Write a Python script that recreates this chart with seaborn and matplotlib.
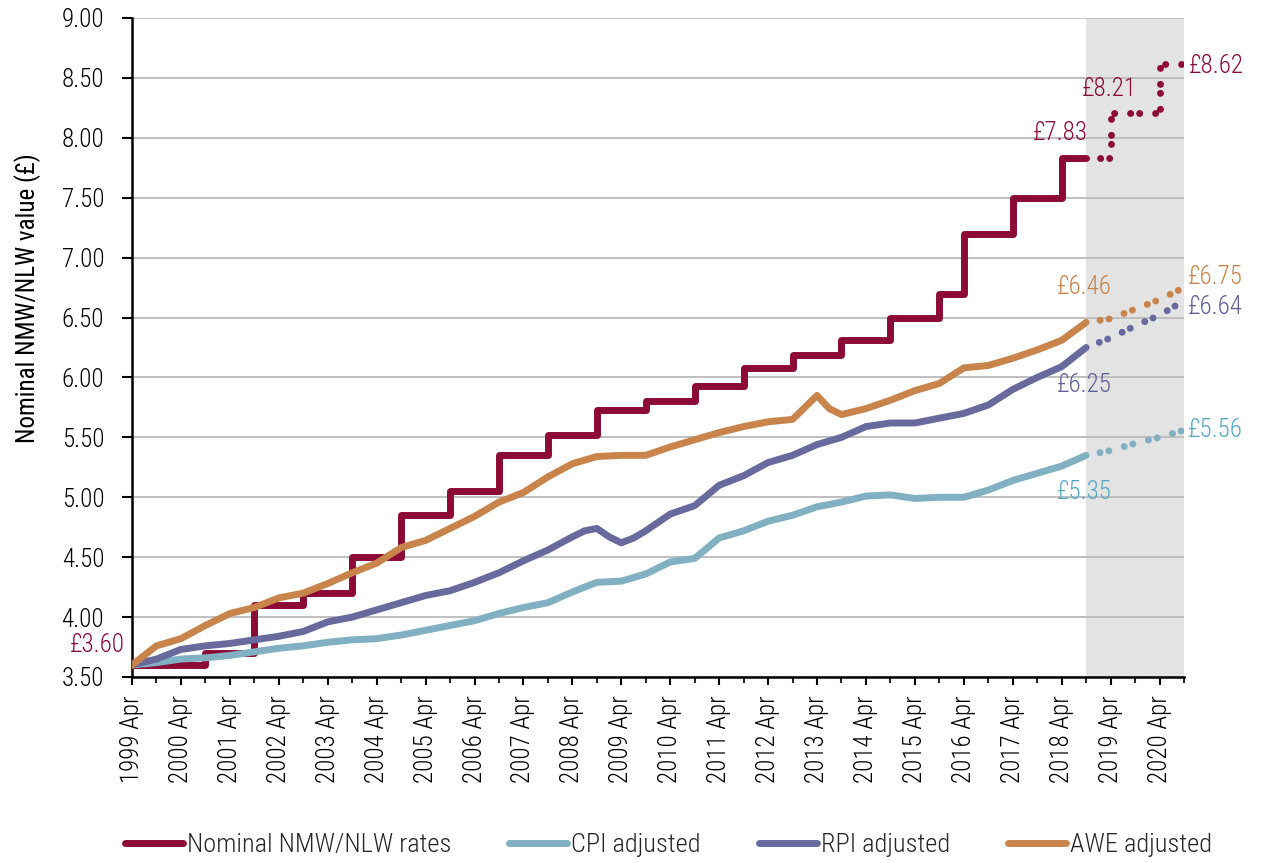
import numpy as np
import pandas as pd
import matplotlib
matplotlib.use("Agg")
import matplotlib.pyplot as plt
from matplotlib import font_manager as fm
from matplotlib.ticker import FormatStrFormatter
import seaborn as sns

# ------------------------------------------------------------------ data
# half-yearly observation dates (Apr / Oct) as decimal years, Apr 1999 .. Oct 2018
obs_dates = [1999.25 + 0.5 * i for i in range(40)]

cpi_values = [3.60, 3.62, 3.65, 3.66, 3.68, 3.71, 3.74, 3.76, 3.79, 3.81,
              3.82, 3.85, 3.89, 3.93, 3.97, 4.03, 4.08, 4.12, 4.21, 4.29,
              4.30, 4.36, 4.46, 4.49, 4.66, 4.72, 4.80, 4.85, 4.92, 4.96,
              5.01, 5.02, 4.99, 5.00, 5.00, 5.06, 5.14, 5.20, 5.26, 5.35]

rpi_values = [3.60, 3.65, 3.73, 3.76, 3.78, 3.81, 3.84, 3.88, 3.96, 4.00,
              4.06, 4.12, 4.18, 4.22, 4.29, 4.37, 4.47, 4.56, 4.67, 4.74,
              4.62, 4.72, 4.86, 4.93, 5.10, 5.18, 5.29, 5.35, 5.44, 5.50,
              5.59, 5.62, 5.62, 5.66, 5.70, 5.77, 5.90, 6.00, 6.09, 6.25]
# extra RPI readings around the 2008-09 dip
rpi_extra_dates = [2008.5, 2009.0, 2009.5]
rpi_extra_values = [4.72, 4.67, 4.66]

awe_values = [3.60, 3.76, 3.82, 3.93, 4.03, 4.08, 4.16, 4.20, 4.28, 4.37,
              4.45, 4.58, 4.64, 4.74, 4.84, 4.96, 5.04, 5.17, 5.28, 5.34,
              5.35, 5.35, 5.42, 5.48, 5.54, 5.59, 5.63, 5.65, 5.85, 5.69,
              5.74, 5.81, 5.89, 5.95, 6.08, 6.10, 6.16, 6.23, 6.31, 6.46]
# extra AWE readings around the 2013 spike
awe_extra_dates = [2013.0, 2013.5]
awe_extra_values = [5.75, 5.74]

nmw_dates = [1999.25, 2000.75, 2001.75, 2002.75, 2003.75, 2004.75, 2005.75,
             2006.75, 2007.75, 2008.75, 2009.75, 2010.75, 2011.75, 2012.75,
             2013.75, 2014.75, 2015.75, 2016.25, 2017.25, 2018.25, 2018.75]
nmw_values = [3.60, 3.70, 4.10, 4.20, 4.50, 4.85, 5.05, 5.35, 5.52, 5.73,
              5.80, 5.93, 6.08, 6.19, 6.31, 6.50, 6.70, 7.20, 7.50, 7.83, 7.83]

# projections (shaded period)
fc_dates = [2018.75, 2019.25, 2019.75, 2020.25, 2020.75]
cpi_fc = [5.35, 5.39, 5.45, 5.50, 5.56]
rpi_fc = [6.25, 6.33, 6.43, 6.52, 6.64]
awe_fc = [6.46, 6.49, 6.57, 6.65, 6.75]
nmw_fc_dates = [2018.75, 2019.25, 2020.25, 2020.75]
nmw_fc_values = [7.83, 8.21, 8.62, 8.62]

tick_years = list(range(1999, 2021))
tick_labels = [f"{y} Apr" for y in tick_years]
series_names = ["Nominal NMW/NLW rates", "CPI adjusted", "RPI adjusted", "AWE adjusted"]

# ------------------------------------------------------------------ style
C_NMW = "#8B0A36"
C_CPI = "#80B0C1"
C_RPI = "#686A9E"
C_AWE = "#C8844A"
T_CPI = "#55A8C6"
T_RPI = "#5C5E98"
T_AWE = "#C8824A"

sns.set_theme(style="ticks")
avail = {f.name for f in fm.fontManager.ttflist}
family = "Liberation Sans"
for cand in ["Roboto Condensed", "Liberation Sans Narrow", "Arial Narrow",
             "Open Sans Condensed", "Noto Sans Condensed"]:
    if cand in avail:
        family = cand
        break
weights = {f.weight for f in fm.fontManager.ttflist if f.name == family}
plt.rcParams["font.family"] = [family, "DejaVu Sans"]
if any(w in (300, "light") for w in weights):
    plt.rcParams["font.weight"] = "light"

FS = 18
W, H = 1264, 863
fig = plt.figure(figsize=(W / 100, H / 100), dpi=100)
ax = fig.add_axes([132 / W, 1 - 677 / H, (1184 - 132) / W, (677 - 18) / H])

ax.axvspan(2018.75, 2020.75, color="#E3E3E3", lw=0, zorder=0.1)
ax.set_axisbelow(True)
ax.yaxis.grid(True, color="#BFBFBF", lw=1.4, zorder=0.5)
ax.xaxis.grid(False)

LW = 5
dot_style = (1.57, (0.01, 1.29, 0.01, 2.29))

rpi_df = pd.DataFrame({"date": obs_dates + rpi_extra_dates,
                       "value": rpi_values + rpi_extra_values}).sort_values("date")
awe_df = pd.DataFrame({"date": obs_dates + awe_extra_dates,
                       "value": awe_values + awe_extra_values}).sort_values("date")

common = dict(lw=LW, solid_capstyle="round", solid_joinstyle="round", ax=ax)
sns.lineplot(x=nmw_dates, y=nmw_values, drawstyle="steps-post", color=C_NMW,
             label=series_names[0], zorder=3, **common)
sns.lineplot(x=obs_dates, y=cpi_values, color=C_CPI, label=series_names[1],
             zorder=4, **common)
sns.lineplot(data=rpi_df, x="date", y="value", color=C_RPI, label=series_names[2],
             zorder=5, **common)
sns.lineplot(data=awe_df, x="date", y="value", color=C_AWE, label=series_names[3],
             zorder=6, **common)

handles, labels = ax.get_legend_handles_labels()

fc_kw = dict(lw=LW, linestyle=dot_style, dash_capstyle="round", ax=ax, legend=False)
sns.lineplot(x=nmw_fc_dates, y=nmw_fc_values, drawstyle="steps-post", color=C_NMW,
             zorder=3, **fc_kw)
sns.lineplot(x=fc_dates, y=cpi_fc, color=C_CPI, zorder=4, **fc_kw)
sns.lineplot(x=fc_dates, y=rpi_fc, color=C_RPI, zorder=5, **fc_kw)
sns.lineplot(x=fc_dates, y=awe_fc, color=C_AWE, zorder=6, **fc_kw)

# ------------------------------------------------------------------ axes
ax.set_xlim(1999.25, 2020.75)
ax.set_ylim(3.5, 9.0)
ax.set_yticks(np.arange(3.5, 9.001, 0.5))
ax.yaxis.set_major_formatter(FormatStrFormatter("%.2f"))
ax.set_xticks([y + 0.25 for y in tick_years])
ax.set_xticklabels(tick_labels, rotation=90)
ax.set_xticks([y + 0.75 for y in tick_years], minor=True)

ax.tick_params(axis="x", which="major", bottom=True, length=6, width=1.5,
               direction="out", pad=7, labelsize=FS, colors="black")
ax.tick_params(axis="x", which="minor", bottom=True, length=4, width=1.5, direction="out")
ax.tick_params(axis="y", which="major", left=True, length=7, width=1.5,
               direction="out", pad=13, labelsize=FS, colors="black")

for s in ["top", "right"]:
    ax.spines[s].set_visible(False)
for s in ["left", "bottom"]:
    ax.spines[s].set_color("black")
    ax.spines[s].set_linewidth(1.8)

ax.set_xlabel("")
ax.set_ylabel("Nominal NMW/NLW value (£)", fontsize=FS, color="black")
ax.yaxis.label.set_va("center")
ax.yaxis.set_label_coords((28 - 132) / 1052, (677 - 298) / 659)

# ------------------------------------------------------------------ value labels
def lab(x, y, s, c, ha):
    ax.text(x, y, s, color=c, ha=ha, va="center", fontsize=FS, clip_on=False, zorder=10)

lab(1999.11, 3.77, "£3.60", C_NMW, "right")
lab(2018.78, 8.04, "£7.83", C_NMW, "right")
lab(2019.23, 8.41, "£8.21", C_NMW, "center")
lab(2020.85, 8.60, "£8.62", C_NMW, "left")
lab(2018.72, 6.755, "£6.46", T_AWE, "center")
lab(2020.82, 6.84, "£6.75", T_AWE, "left")
lab(2020.82, 6.59, "£6.64", T_RPI, "left")
lab(2018.72, 5.94, "£6.25", T_RPI, "center")
lab(2020.82, 5.56, "£5.56", T_CPI, "left")
lab(2018.72, 5.04, "£5.35", T_CPI, "center")

# ------------------------------------------------------------------ legend
leg = ax.legend(handles, labels, loc="center", bbox_to_anchor=(0.529, 0.021),
                bbox_transform=fig.transFigure, ncol=4, frameon=False, fontsize=19,
                handlelength=2.2, handletextpad=0.15, columnspacing=2.2)

fig.savefig("out.png", dpi=100)
